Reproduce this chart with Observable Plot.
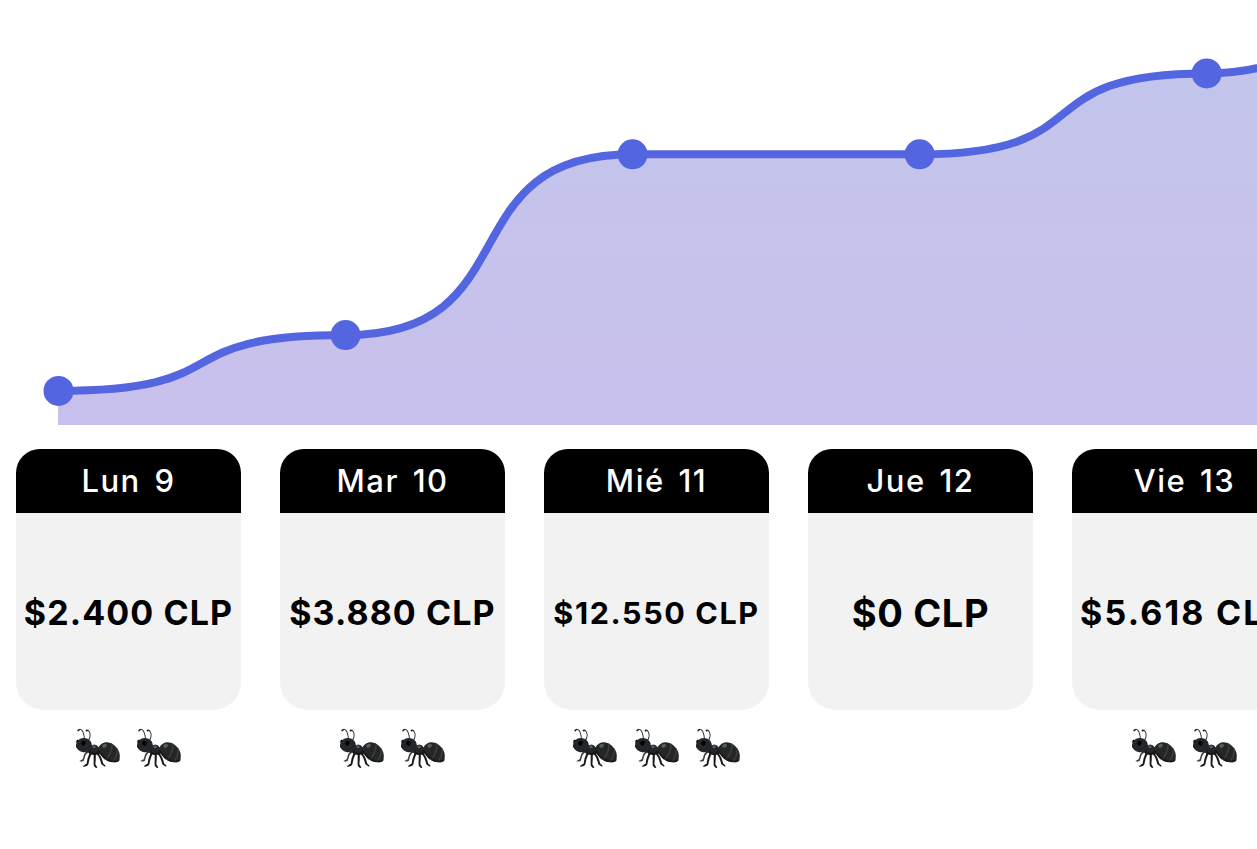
<!DOCTYPE html>
<html><head><meta charset="utf-8">
<script src="https://cdn.jsdelivr.net/npm/d3@7"></script>
<script src="https://cdn.jsdelivr.net/npm/@observablehq/plot@0.6"></script>
<style>
html,body{margin:0;padding:0;background:#fff;overflow:hidden;width:1257px;height:849px}
#chart svg{display:block}
#cards{position:absolute;left:16px;top:449px;display:flex;gap:39px;font-family:Inter,"Liberation Sans",sans-serif}
.card{width:225px;flex:none}
.head{height:64px;box-sizing:border-box;padding-bottom:2px;background:#000;color:#fff;border-radius:24px 24px 0 0;display:flex;align-items:center;justify-content:center;font-size:31px;font-weight:500;letter-spacing:1.5px;word-spacing:4px;white-space:nowrap}
.body{height:197px;box-sizing:border-box;padding-top:2px;background:#f2f2f2;border-radius:0 0 28px 28px;display:flex;align-items:center;justify-content:center;font-weight:700;white-space:nowrap;color:#000;font-size:34px;letter-spacing:1.1px}
.card:nth-child(3) .body{font-size:30.5px;letter-spacing:1.6px}
.card:nth-child(4) .body{font-size:38px;letter-spacing:.6px}
.card:nth-child(5) .body{letter-spacing:2.2px}
.ants{height:60px;text-align:center;font-size:40px;line-height:74px;white-space:nowrap;filter:brightness(.55) contrast(1.2)}
</style></head><body>
<div id="chart"></div><div id="cards"></div>
<script>
const days = ["Lun 9","Mar 10","Mié 11","Jue 12","Vie 13"];
const amounts = [2400,3880,12550,0,5618];
const amountLabels = ["$2.400 CLP","$3.880 CLP","$12.550 CLP","$0 CLP","$5.618 CLP"];
const antCounts = [2,2,3,0,2];
const nextAmount = 11600;
const cumulative = d3.cumsum([...amounts,nextAmount]);
const table = Array.from(cumulative,(y,i)=>({i,y}));
const grad = "areaGrad";
// Horizontal-tangent curve with tighter knees than d3's bump
const KNEE = 0.65;
function kneeCurve(context){
  let line=NaN,pt=0,x0=0,y0=0;
  return {
    areaStart(){line=0;},
    areaEnd(){line=NaN;},
    lineStart(){pt=0;},
    lineEnd(){if(line||(line!==0&&pt===1))context.closePath();line=1-line;},
    point(x,y){
      x=+x;y=+y;
      if(pt===0){pt=1;if(line)context.lineTo(x,y);else context.moveTo(x,y);}
      else{pt=2;const dx=x-x0;context.bezierCurveTo(x0+KNEE*dx,y0,x-KNEE*dx,y,x,y);}
      x0=x;y0=y;
    }
  };
}
const plot = Plot.plot({
  width:1257,height:425,margin:0,
  x:{axis:null,domain:[-0.2021,4.1770],range:[0,1257]},
  y:{axis:null,domain:[0,425/0.0144],range:[425,0]},
  marks:[
    ()=>{const s=d3.create("svg:defs");const g=s.append("linearGradient").attr("id",grad).attr("x1",0).attr("x2",0).attr("y1",0).attr("y2",1);
      g.append("stop").attr("offset","0%").attr("stop-color","#c1c7eb");g.append("stop").attr("offset","100%").attr("stop-color","#c8c0ec");return s.node();},
    Plot.areaY(table,{x:"i",y:"y",curve:kneeCurve,fill:`url(#${grad})`}),
    Plot.line(table,{x:"i",y:"y",curve:kneeCurve,stroke:"#5465e0",strokeWidth:8}),
    Plot.dot(table,{x:"i",y:"y",r:15,fill:"#5465e0"})
  ]
});
document.getElementById("chart").append(plot);
const cards=document.getElementById("cards");
days.forEach((d,i)=>{
  const c=document.createElement("div");c.className="card";
  const h=document.createElement("div");h.className="head";h.textContent=d;
  const b=document.createElement("div");b.className="body";b.textContent=amountLabels[i];
  const a=document.createElement("div");a.className="ants";a.textContent=Array(antCounts[i]).fill("🐜").join(" ");
  c.append(h,b,a);cards.append(c);
});
</script></body></html>
